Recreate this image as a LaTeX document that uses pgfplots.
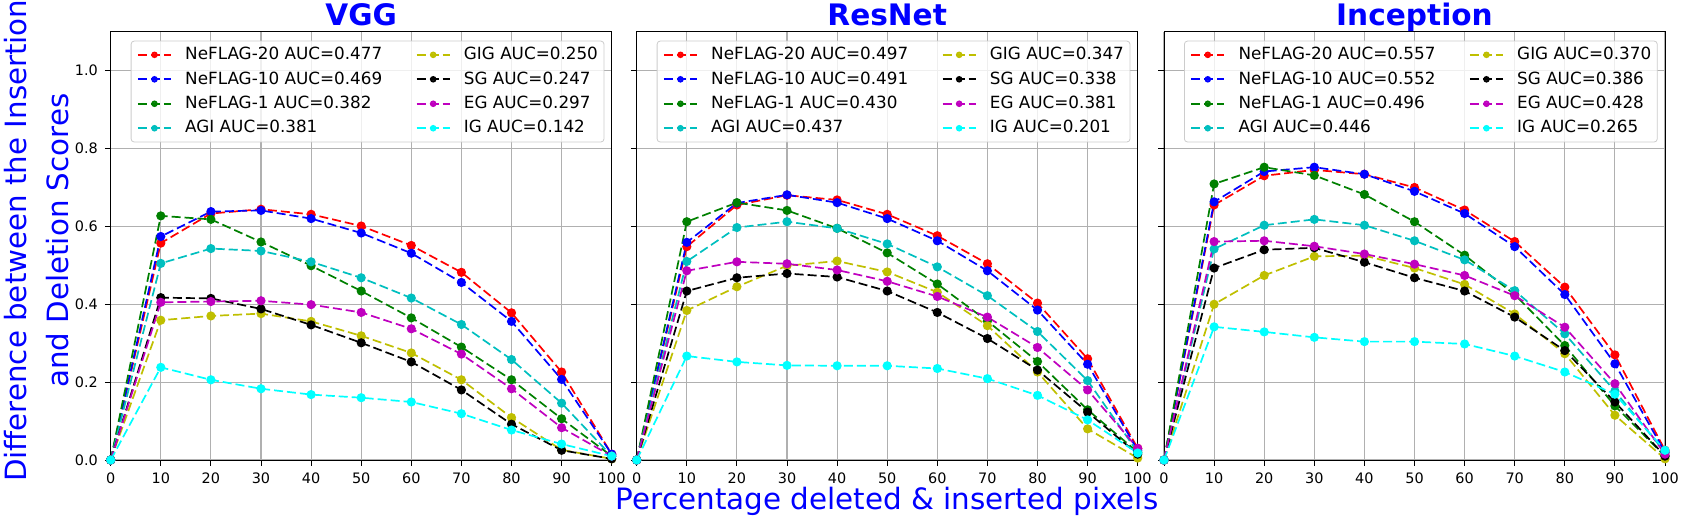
\documentclass[border=0pt]{standalone}
\usepackage{pgfplots}
\pgfplotsset{compat=1.18}
\usepackage{pgfplotstable}
\usepackage{fontspec}
\setmainfont{DejaVu Sans}

\definecolor{mplg}{rgb}{0,0.5,0}
\definecolor{mplc}{rgb}{0,0.75,0.75}
\definecolor{mply}{rgb}{0.75,0.75,0}
\definecolor{mplm}{rgb}{0.75,0,0.75}
\definecolor{mplaqua}{rgb}{0,1,1}

\pgfplotstableread{
x   n20   n10   n1    agi   gig   sg    eg    ig
0   0     0     0     0     0     0     0     0
10  0.557 0.574 0.627 0.505 0.359 0.417 0.405 0.238
20  0.633 0.638 0.618 0.543 0.370 0.415 0.407 0.206
30  0.644 0.641 0.560 0.537 0.376 0.388 0.409 0.183
40  0.631 0.620 0.499 0.509 0.356 0.347 0.399 0.168
50  0.601 0.583 0.434 0.468 0.319 0.301 0.379 0.160
60  0.551 0.531 0.365 0.416 0.275 0.252 0.337 0.149
70  0.482 0.456 0.290 0.348 0.206 0.180 0.272 0.119
80  0.378 0.356 0.206 0.258 0.109 0.092 0.183 0.077
90  0.226 0.207 0.106 0.146 0.026 0.025 0.083 0.041
100 0.015 0.015 0.010 0.010 0.003 0.003 0.010 0.010
}\vgg

\pgfplotstableread{
x   n20   n10   n1    agi   gig   sg    eg    ig
0   0     0     0     0     0     0     0     0
10  0.548 0.559 0.612 0.510 0.384 0.434 0.486 0.267
20  0.655 0.660 0.661 0.597 0.445 0.468 0.509 0.252
30  0.680 0.681 0.641 0.612 0.499 0.479 0.504 0.243
40  0.668 0.661 0.595 0.595 0.511 0.470 0.488 0.242
50  0.631 0.620 0.532 0.555 0.483 0.434 0.459 0.242
60  0.576 0.563 0.452 0.496 0.431 0.379 0.420 0.235
70  0.504 0.486 0.357 0.422 0.345 0.312 0.367 0.209
80  0.403 0.385 0.253 0.330 0.226 0.231 0.289 0.166
90  0.260 0.246 0.129 0.204 0.080 0.123 0.180 0.103
100 0.030 0.025 0.020 0.020 0.005 0.015 0.030 0.018
}\resnet

\pgfplotstableread{
x   n20   n10   n1    agi   gig   sg    eg    ig
0   0     0     0     0     0     0     0     0
10  0.655 0.663 0.709 0.542 0.400 0.493 0.561 0.342
20  0.730 0.741 0.752 0.603 0.474 0.540 0.563 0.329
30  0.745 0.752 0.731 0.618 0.523 0.545 0.549 0.315
40  0.734 0.734 0.682 0.603 0.525 0.508 0.529 0.304
50  0.700 0.690 0.612 0.563 0.493 0.468 0.503 0.304
60  0.642 0.633 0.526 0.514 0.451 0.434 0.474 0.298
70  0.561 0.548 0.425 0.435 0.375 0.367 0.422 0.267
80  0.444 0.425 0.294 0.324 0.273 0.281 0.341 0.226
90  0.270 0.247 0.139 0.177 0.115 0.149 0.196 0.169
100 0.025 0.020 0.010 0.020 0.003 0.010 0.015 0.025
}\inception

\pgfplotsset{
  every axis title shift=0pt,
  ser/.style={color=#1, mark=*, mark size=1.85pt, line width=0.85pt,
    dash pattern=on 4.5pt off 2pt, mark options={solid}},
  panel/.style={
    scale only axis, width=250.5pt, height=214.15pt,
    xmin=0, xmax=100, ymin=0, ymax=1.1,
    xtick={0,10,...,100}, ytick={0,0.2,0.4,0.6,0.8,1.0},
    grid=major, major grid style={color=black!31, line width=0.55pt},
    axis line style={line width=0.5pt},
    tick align=outside, xtick pos=lower, ytick pos=left,
    major tick length=2.9pt,
    tick style={black, line width=0.5pt},
    /pgf/number format/assume math mode=true,
    tick label style={font=\fontsize{7.2}{8.6}\selectfont},
    yticklabel style={/pgf/number format/.cd, fixed, fixed zerofill, precision=1},
    title style={at={(axis description cs:0.5,1.0156)}, anchor=base,
      font=\fontsize{14.8}{17}\selectfont\bfseries, text=blue},
    legend columns=2,
    legend cell align=left,
    legend style={at={(0.04,0.979)}, anchor=north west, draw=black!20,
      rounded corners=1.5pt, fill=white, fill opacity=0.8, text opacity=1,
      inner sep=3pt, font=\fontsize{8.4}{10}\selectfont,
      nodes={inner sep=0pt}, row sep=4.5pt, column sep=6.7pt,
      /tikz/every even column/.append style={column sep=16.8pt}},
    legend image code/.code={\draw[mark repeat=2, mark phase=2, ##1, mark size=1.2pt]
      plot coordinates {(0pt,0pt) (8.25pt,0pt) (16.5pt,0pt)};},
  },
}

\newcommand{\drawseries}[1]{%
  \addplot[ser=red, forget plot] table[x=x, y=n20] {#1};
  \addplot[ser=blue, forget plot] table[x=x, y=n10] {#1};
  \addplot[ser=mplg, forget plot] table[x=x, y=n1] {#1};
  \addplot[ser=mplc, forget plot] table[x=x, y=agi] {#1};
  \addplot[ser=mply, forget plot] table[x=x, y=gig] {#1};
  \addplot[ser=black, forget plot] table[x=x, y=sg] {#1};
  \addplot[ser=mplm, forget plot] table[x=x, y=eg] {#1};
  \addplot[ser=mplaqua, forget plot] table[x=x, y=ig] {#1};
}

\newcommand{\legendset}[8]{%
  \addlegendimage{ser=red}\addlegendentry{NeFLAG-20 AUC=#1}
  \addlegendimage{ser=mply}\addlegendentry{GIG AUC=#5}
  \addlegendimage{ser=blue}\addlegendentry{NeFLAG-10 AUC=#2}
  \addlegendimage{ser=black}\addlegendentry{SG AUC=#6}
  \addlegendimage{ser=mplg}\addlegendentry{NeFLAG-1 AUC=#3}
  \addlegendimage{ser=mplm}\addlegendentry{EG AUC=#7}
  \addlegendimage{ser=mplc}\addlegendentry{AGI AUC=#4}
  \addlegendimage{ser=mplaqua}\addlegendentry{IG AUC=#8}
}

\begin{document}
\begin{tikzpicture}
\begin{axis}[panel, at={(55.35pt,-230pt)}, anchor=south west,
  title={VGG},
  ylabel={Difference between the Insertion\\and Deletion Scores},
  ylabel style={at={(axis description cs:-0.1483,0.512)}, anchor=center,
    align=center, font=\fontsize{14.65}{20.85}\selectfont, text=blue},
]
\drawseries{\vgg}
\legendset{0.477}{0.469}{0.382}{0.381}{0.250}{0.247}{0.297}{0.142}
\end{axis}

\begin{axis}[panel, at={(318.35pt,-230pt)}, anchor=south west,
  title={ResNet}, yticklabels={},
  xlabel={Percentage deleted \& inserted pixels},
  xlabel style={at={(axis description cs:0.5,-0.1167)}, anchor=base,
    font=\fontsize{14.7}{17}\selectfont, text=blue},
]
\drawseries{\resnet}
\legendset{0.497}{0.491}{0.430}{0.437}{0.347}{0.338}{0.381}{0.201}
\end{axis}

\begin{axis}[panel, at={(582pt,-230pt)}, anchor=south west,
  title={Inception}, yticklabels={},
]
\drawseries{\inception}
\legendset{0.557}{0.552}{0.496}{0.446}{0.370}{0.386}{0.428}{0.265}
\end{axis}
\pgfresetboundingbox
\useasboundingbox (0,0) rectangle (841.5pt,-260pt);
\end{tikzpicture}
\end{document}
